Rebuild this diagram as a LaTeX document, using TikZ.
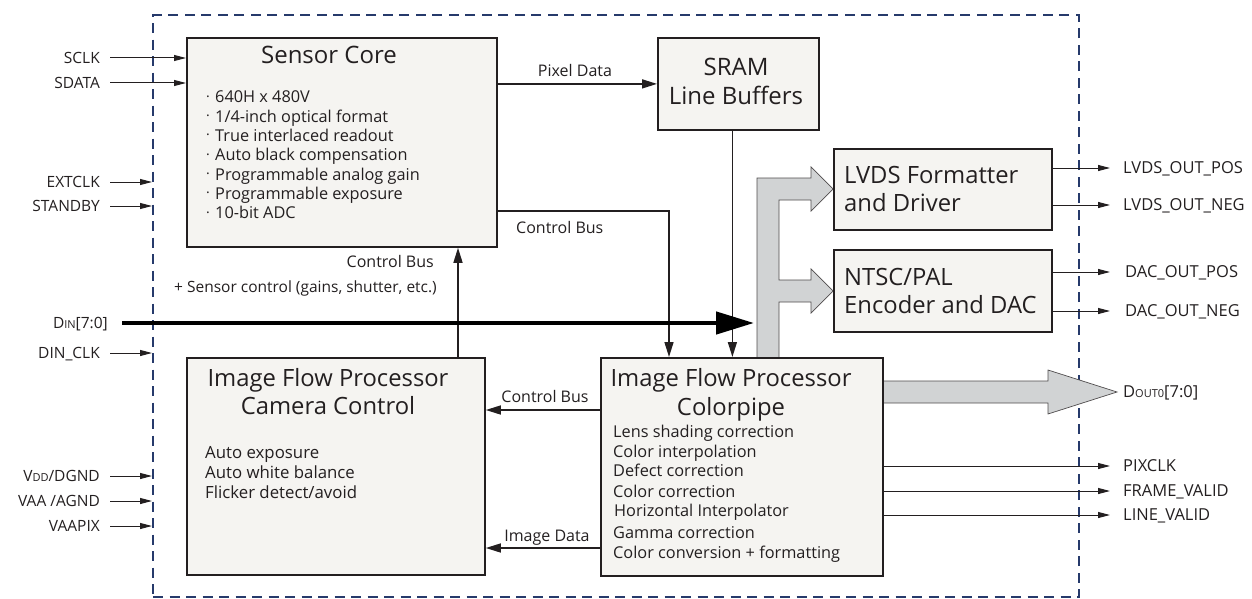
\documentclass[tikz,border=0pt]{standalone}
\usepackage{fontspec}
\setmainfont{Open Sans}
\usetikzlibrary{arrows.meta,calc}

\definecolor{ink}{HTML}{231F20}
\definecolor{boxfill}{HTML}{F5F4F1}
\definecolor{busgray}{HTML}{D1D3D4}
\definecolor{framecol}{HTML}{263A6B}

\newcommand\fs[1]{\fontsize{#1}{#1}\selectfont}
\newcommand\smc[1]{{\fontsize{11}{11}\selectfont #1}}
\newcommand\bdot{\makebox[9pt][l]{\raisebox{5.6pt}{\fs{14}.}}}

\begin{document}
\begin{tikzpicture}[x=1pt,y=-1pt,
  blk/.style={draw=ink, line width=1.8pt, fill=boxfill, inner sep=0pt, anchor=north west},
  bus/.style={draw=ink!80, line width=0.7pt, fill=busgray, line join=miter},
  sigarr/.style={draw=ink, line width=1pt, -{Triangle[length=12pt,width=6pt]}},
  busarr/.style={draw=ink, line width=1.5pt, -{Triangle[length=15pt,width=9pt]}},
  dinarr/.style={draw=black, line width=4.5pt, -{Triangle[length=38pt,width=22pt]}},
  sig/.style={inner sep=0pt, text=ink, font=\fs{15.5}, text height=11.1pt, text depth=0pt},
  osig/.style={inner sep=0pt, text=ink, font=\fs{16.5}, text height=11.8pt, text depth=0pt, anchor=west},
  lab/.style={inner sep=0pt, text=ink, font=\fs{16}, text height=11.4pt, text depth=0pt},
  itm/.style={inner sep=0pt, text=ink, font=\fs{16.3}, text height=11.6pt, text depth=0pt, anchor=west},
  itmb/.style={inner sep=0pt, text=ink, font=\fs{16.8}, text height=12pt, text depth=0pt, anchor=west},
  hd/.style={inner sep=0pt, text=ink, font=\fs{23.8}, text height=17pt, text depth=0pt},
  hdb/.style={inner sep=0pt, text=ink, font=\fs{24}, text height=17.1pt, text depth=0pt}]

\useasboundingbox (0,0) rectangle (1252,599);

% chip outline
\node[draw=framecol, line width=2.4pt, dash pattern=on 10pt off 6.5pt,
      minimum width=926pt, minimum height=582pt, inner sep=0pt, anchor=north west] (fr) at (152,14) {};

% wide grey buses
\draw[bus] (757,357) -- (757,178) -- (811,178) -- (811,167) -- (833,189) -- (811,211)
  -- (811,200) -- (779,200) -- (779,280) -- (811,280) -- (811,269) -- (833,291)
  -- (811,313) -- (811,302) -- (779,302) -- (779,357);
\draw[bus] (882,381) -- (1048,381) -- (1048,370) -- (1117,392) -- (1048,414)
  -- (1048,403) -- (882,403);

% blocks
\node[blk, minimum width=310pt, minimum height=209pt] (sc)   at (186,37)  {};
\node[blk, minimum width=161pt, minimum height=92pt]  (sram) at (657,37)  {};
\node[blk, minimum width=218pt, minimum height=81pt]  (lvds) at (833,148) {};
\node[blk, minimum width=218pt, minimum height=82pt]  (ntsc) at (833,249) {};
\node[blk, minimum width=298pt, minimum height=217pt] (cc)   at (186,357) {};
\node[blk, minimum width=282pt, minimum height=218pt] (cp)   at (600,357) {};

% block texts
\node[hdb] (t-sc) at (329,55) {Sensor Core};
\foreach \t [count=\i] in {640H x 480V, 1/4-inch optical format, True interlaced readout,
    Auto black compensation, Programmable analog gain, Programmable exposure, 10-bit ADC}
  \node[itm] (sc-\i) at (206,{97+19.3*(\i-1)}) {\bdot\t};

\node[hdb] (t-sram1) at (736,67) {SRAM};
\node[hdb] (t-sram2) at (736,96) {Line Buffers};

\node[hd, anchor=west] (t-lvds1) at (844,175) {LVDS Formatter};
\node[hd, anchor=west] (t-lvds2) at (844,203) {and Driver};
\node[hd, anchor=west] (t-ntsc1) at (844,277) {NTSC/PAL};
\node[hd, anchor=west] (t-ntsc2) at (844,305) {Encoder and DAC};

\node[hd] (t-cc1) at (328,378) {Image Flow Processor};
\node[hd] (t-cc2) at (328,406) {Camera Control};
\foreach \t [count=\i] in {Auto exposure, Auto white balance, Flicker detect/avoid}
  \node[itmb] (cc-\i) at (205,{452+20*(\i-1)}) {\t};

\node[hd] (t-cp1) at (731,378) {Image Flow Processor};
\node[hd] (t-cp2) at (731,407) {Colorpipe};
\node[itm] (cp-1) at (613,432) {Lens shading correction};
\node[itm] (cp-2) at (613,452) {Color interpolation};
\node[itm] (cp-3) at (613,471) {Defect correction};
\node[itm] (cp-4) at (613,492) {Color correction};
\node[itm] (cp-5) at (614,511) {Horizontal Interpolator};
\node[itm] (cp-6) at (613,533) {Gamma correction};
\node[itm] (cp-7) at (613,553) {Color conversion + formatting};

% internal connections
\draw[busarr] (sc.east |- sram.west) -- (sram.west);
\node[lab] (l-pix) at (575,71) {Pixel Data};

\coordinate (cbs) at ($(sc.north east)+(0,174)$);
\draw[busarr] (cbs) -| ($(cp.north west)+(69,0)$);
\node[lab, anchor=west] (l-cb1) at (516,228) {Control Bus};

\coordinate (sr) at ($(sram.south)+(-6,0)$);
\draw[busarr] (sr) -- (sr |- cp.north);

\coordinate (cu) at ($(cc.north west)+(272,0)$);
\draw[busarr] (cu) -- (cu |- sc.south);
\node[lab, anchor=east] (l-cb2) at (434,262) {Control Bus};
\node[lab, anchor=east, font=\fs{15.5}] (l-sens) at (437,287) {+ Sensor control (gains, shutter, etc.)};

\coordinate (cb3) at ($(cp.north west)+(0,53)$);
\draw[busarr] (cb3) -- (cb3 -| cc.east);
\node[lab] (l-cb3) at (545,397) {Control Bus};

\coordinate (imd) at ($(cp.north west)+(0,191)$);
\draw[busarr] (imd) -- (imd -| cc.east);
\node[lab] (l-imd) at (547,536) {Image Data};

% parallel data input
\node[sig, anchor=east] (din) at (108,323) {D\smc{IN}[7:0]};
\coordinate (dinend) at (754,323);
\draw[dinarr] ([xshift=14pt]din.east) -- (dinend);

% input pins
\node[sig, anchor=east] (i-sclk)  at (100,58)  {SCLK};
\node[sig, anchor=east] (i-sdata) at (100,83)  {SDATA};
\node[sig, anchor=east] (i-ext)   at (100,182) {EXTCLK};
\node[sig, anchor=east] (i-stby)  at (100,206) {STANDBY};
\node[sig, anchor=east] (i-dclk)  at (100,353) {DIN\_CLK};
\node[sig, anchor=east] (i-vdd)   at (100,476) {V\smc{DD}/DGND};
\node[sig, anchor=east] (i-vaa)   at (100,501) {VAA /AGND};
\node[sig, anchor=east] (i-vpix)  at (100,526) {VAAPIX};

\draw[sigarr] ([xshift=10pt]i-sclk.east)  -- (i-sclk -| sc.west);
\draw[sigarr] ([xshift=10pt]i-sdata.east) -- (i-sdata -| sc.west);
\foreach \p in {i-ext, i-stby, i-dclk, i-vdd, i-vaa, i-vpix}
  \draw[sigarr] ([xshift=10pt]\p.east) -- (\p -| fr.west);

% output pins
\node[osig] (o-lvp)  at (1123,168) {LVDS\_OUT\_POS};
\node[osig] (o-lvn)  at (1123,205) {LVDS\_OUT\_NEG};
\node[osig] (o-dap)  at (1125,272) {DAC\_OUT\_POS};
\node[osig] (o-dan)  at (1125,311) {DAC\_OUT\_NEG};
\node[osig] (o-dout) at (1123,392) {D\smc{OUT0}[7:0]};
\node[osig] (o-pix)  at (1123,466) {PIXCLK};
\node[osig] (o-fv)   at (1123,491) {FRAME\_VALID};
\node[osig] (o-lv)   at (1123,515) {LINE\_VALID};

\draw[sigarr] (lvds.east |- o-lvp) -- ([xshift=-13pt]o-lvp.west);
\draw[sigarr] (lvds.east |- o-lvn) -- ([xshift=-13pt]o-lvn.west);
\draw[sigarr] (ntsc.east |- o-dap) -- ([xshift=-15pt]o-dap.west);
\draw[sigarr] (ntsc.east |- o-dan) -- ([xshift=-15pt]o-dan.west);
\draw[sigarr] (cp.east |- o-pix) -- ([xshift=-13pt]o-pix.west);
\draw[sigarr] (cp.east |- o-fv)  -- ([xshift=-13pt]o-fv.west);
\draw[sigarr] (cp.east |- o-lv)  -- ([xshift=-13pt]o-lv.west);

\end{tikzpicture}
\end{document}
